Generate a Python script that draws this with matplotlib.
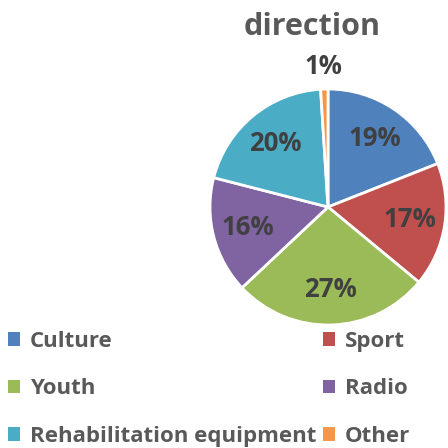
import numpy as np
import matplotlib
matplotlib.use("Agg")
import matplotlib.pyplot as plt

categories = ["Culture", "Sport", "Youth", "Radio", "Rehabilitation equipment", "Other"]
shares = [19, 17, 27, 16, 20, 1]
colors = ["#4F81BD", "#C0504D", "#9BBB59", "#8064A2", "#4BACC6", "#F79646"]
title = "direction"

plt.rcParams['font.family'] = ['Open Sans', 'DejaVu Sans']

W = H = 448
fig = plt.figure(figsize=(W / 100, H / 100), dpi=100)

# pie placement in pixels (centre and radius)
cx, cy, r = 328, 207, 118
ax = fig.add_axes([(cx - r) / W, (H - cy - r) / H, 2 * r / W, 2 * r / H])

wedges, texts, autotexts = ax.pie(
    shares, colors=colors, startangle=90, counterclock=False, radius=1,
    autopct='%d%%', pctdistance=0.7,
    wedgeprops=dict(edgecolor='white', linewidth=2.0),
    textprops=dict(fontsize=18.5, fontweight='bold', color='#404040'))
ax.set_xlim(-1, 1)
ax.set_ylim(-1, 1)
ax.set_aspect('equal')
ax.axis('off')
for w in wedges:
    w.set_clip_on(False)

# small slice label sits outside the pie
w = wedges[-1]
ang = np.deg2rad((w.theta1 + w.theta2) / 2)
autotexts[-1].set_position((1.19 * np.cos(ang), 1.19 * np.sin(ang)))

fig.text(cx / W - 0.035, 1 - 27 / H, title, ha='center', va='center',
         fontsize=22, fontweight='bold', color='#595959')

order = [0, 2, 4, 1, 3, 5]
leg = fig.legend([wedges[i] for i in order], [categories[i] for i in order],
                 ncol=2, loc='upper left', bbox_to_anchor=(1 / W, 1 - 324 / H),
                 frameon=False, handlelength=0.55, handleheight=0.55,
                 handletextpad=0.45, columnspacing=0.3, labelspacing=1.2,
                 borderaxespad=0, borderpad=0.3,
                 prop=dict(weight='bold', size=16))
for t in leg.get_texts():
    t.set_color('#595959')
for h in leg.legend_handles:
    h.set_edgecolor('none')

fig.savefig("out.png", dpi=100)
